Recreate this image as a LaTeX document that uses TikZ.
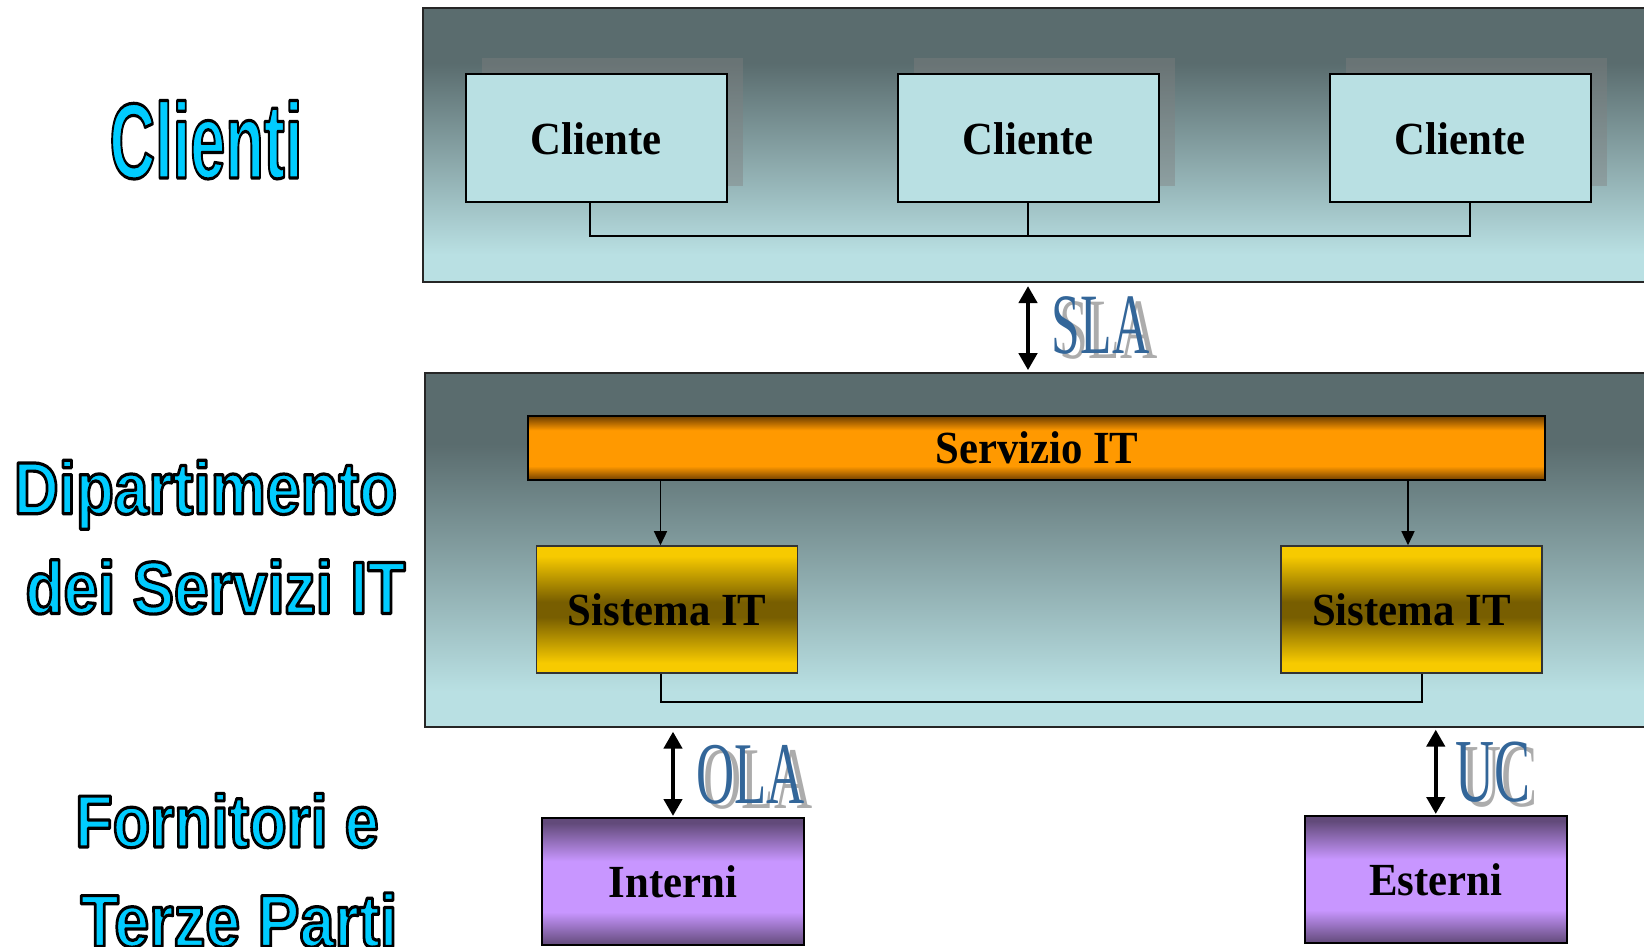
\documentclass[tikz,border=0pt]{standalone}
\usepackage{fontspec}
\setmainfont{Liberation Serif}
\newfontfamily\boxfont[FakeStretch=0.93]{Liberation Serif}
\newfontfamily\tagfont[FakeStretch=0.6]{Liberation Serif}
\newfontfamily\headfont{Liberation Sans}
\usetikzlibrary{arrows.meta,shadows}

% colours
\definecolor{pdark}{RGB}{90,108,110}
\definecolor{plight}{RGB}{185,224,227}
\definecolor{boxcyan}{RGB}{185,224,227}
\definecolor{obrown}{RGB}{110,62,0}
\definecolor{oorange}{RGB}{255,153,0}
\definecolor{ggold}{RGB}{247,202,0}
\definecolor{gdark}{RGB}{120,94,0}
\definecolor{vdark}{RGB}{98,74,122}
\definecolor{vlight}{RGB}{200,150,255}
\definecolor{labcyan}{RGB}{0,204,255}
\definecolor{tagblue}{RGB}{51,102,153}
\definecolor{tagshade}{RGB}{172,172,172}

% vertical gradients (the path is fitted into 25bp..75bp)
\pgfdeclareverticalshading{panelshade}{100bp}{color(0bp)=(plight); color(25bp)=(plight); color(30bp)=(plight); color(65bp)=(pdark); color(75bp)=(pdark); color(100bp)=(pdark)}
\pgfdeclareverticalshading{barshade}{100bp}{color(0bp)=(obrown); color(25bp)=(obrown); color(36bp)=(oorange); color(64bp)=(oorange); color(75bp)=(obrown); color(100bp)=(obrown)}
\pgfdeclareverticalshading{sysshade}{100bp}{color(0bp)=(ggold); color(25bp)=(ggold); color(29bp)=(ggold); color(47bp)=(gdark); color(53bp)=(gdark); color(71bp)=(ggold); color(75bp)=(ggold); color(100bp)=(ggold)}
\pgfdeclareverticalshading{provshade}{100bp}{color(0bp)=(vdark); color(25bp)=(vdark); color(38bp)=(vlight); color(58bp)=(vlight); color(73bp)=(vdark); color(100bp)=(vdark)}

% outlined heading text: glyphs filled in the current colour and stroked in black
\newcommand{\outlined}[2]{%
  \special{pdf:literal direct 2 Tr 3.2 w 1 j 0 0 0 RG}%
  \scalebox{#1}[1]{#2}%
  \special{pdf:literal direct 0 Tr}}

\begin{document}
\begin{tikzpicture}[x=1pt,y=-1pt,
  panel/.style={draw=black!85,line width=2pt,shade,shading=panelshade,inner sep=0pt,anchor=north west},
  boxtext/.style={font=\boxfont\bfseries\fontsize{46}{46}\selectfont,text=black,inner sep=0pt},
  clientbox/.style={boxtext,draw=black,line width=2pt,fill=boxcyan,anchor=north west,
    minimum width=261pt,minimum height=128pt,
    drop shadow={shadow xshift=16pt,shadow yshift=16pt,fill=black!50,opacity=0.42}},
  barbox/.style={boxtext,draw=black,line width=2pt,shade,shading=barshade,anchor=north west,
    minimum width=1017pt,minimum height=64pt},
  sysbox/.style={boxtext,draw=black!80,line width=1.6pt,shade,shading=sysshade,anchor=north west,
    minimum width=261pt,minimum height=127pt},
  provbox/.style={boxtext,draw=black,line width=2pt,shade,shading=provshade,anchor=north west,
    minimum height=127pt},
  head/.style={font=\headfont\bfseries\fontsize{74}{74}\selectfont,text=labcyan,inner sep=0pt,anchor=base},
  tagtext/.style={text=tagblue,inner sep=0pt,anchor=base west},
  tagback/.style={text=tagshade,inner sep=0pt,anchor=base west},
  link/.style={draw=black,line width=2pt},
  sarrow/.style={draw=black,line width=1.5pt,arrows={-Triangle[width=13pt,length=14pt]}},
  dblarrow/.style={draw=black,line width=4.5pt,
    arrows={Triangle[width=18pt,length=17pt]-Triangle[width=18pt,length=17pt]}}
]
\useasboundingbox (0,0) rectangle (1644,946);
\clip (0,0) rectangle (1644,946);

% layer panels
\node[panel,minimum width=1238.5pt,minimum height=273.7pt] (pnlcli) at (421.5,7.3) {};
\node[panel,minimum width=1236.4pt,minimum height=353.4pt] (pnldep) at (423.6,372.2) {};

% clients
\node[clientbox] (cli1) at (464.5,73.4) {Cliente};
\node[clientbox] (cli2) at (896.5,73.4) {Cliente};
\node[clientbox] (cli3) at (1328.5,73.4) {Cliente};
\coordinate (cbus) at (0,236);
\draw[link] ([xshift=-6pt]cli1.south) |- ([xshift=10pt]cli3.south |- cbus) -- ([xshift=10pt]cli3.south);
\draw[link] (cli2.south) -- (cli2.south |- cbus);

% IT service and systems
\node[barbox] (bar) at (527.4,415.2) {Servizio IT};
\node[sysbox] (sys1) at (535.8,545.2) {Sistema IT};
\node[sysbox] (sys2) at (1280,545.2) {Sistema IT};
\coordinate (a1) at (660.5,0);
\coordinate (a2) at (1408,0);
\coordinate (sbus) at (0,702);
\draw[sarrow] (bar.south -| a1) -- (sys1.north -| a1);
\draw[sarrow] (bar.south -| a2) -- (sys2.north -| a2);
\draw[link] (sys1.south -| a1) |- ([xshift=10.5pt]sys2.south |- sbus) -- ([xshift=10.5pt]sys2.south);

% suppliers
\node[provbox,minimum width=262pt] (int) at (541,817) {Interni};
\node[provbox,minimum width=261.5pt] (est) at (1304,815) {Esterni};

% agreements
\draw[dblarrow,shorten <=3pt,shorten >=2pt] (cli2.south |- pnlcli.south) -- (cli2.south |- pnldep.north);
\draw[dblarrow,shorten <=4pt,shorten >=1pt] (int.north |- pnldep.south) -- (int.north);
\draw[dblarrow,shorten <=2pt,shorten >=1pt] (est.north |- pnldep.south) -- (est.north);

\node[tagback,font=\tagfont\fontsize{86}{86}\selectfont] (slab) at (1059.7,358) {SLA};
\node[tagtext,font=\tagfont\fontsize{86}{86}\selectfont] (sla) at (1051.7,353) {SLA};
\node[tagback,font=\tagfont\fontsize{88}{88}\selectfont] (olab) at (703.5,808) {OLA};
\node[tagtext,font=\tagfont\fontsize{88}{88}\selectfont] (ola) at (696,803) {OLA};
\node[tagback,font=\tagfont\fontsize{90}{90}\selectfont] (ucb) at (1462.5,806.5) {UC};
\node[tagtext,font=\tagfont\fontsize{90}{90}\selectfont] (uc) at (1455,801.7) {UC};

% row headings
\node[head,font=\headfont\bfseries\fontsize{107}{107}\selectfont] (hcli) at (206,178) {\outlined{0.59}{Clienti}};
\node[head] (hdep1) at (205.5,513.8) {\outlined{0.84}{Dipartimento}};
\node[head] (hdep2) at (215.5,613.4) {\outlined{0.84}{dei Servizi IT}};
\node[head] (hfor1) at (227,847) {\outlined{0.83}{Fornitori e}};
\node[head] (hfor2) at (239,946.5) {\outlined{0.85}{Terze Parti}};
\end{tikzpicture}
\end{document}
